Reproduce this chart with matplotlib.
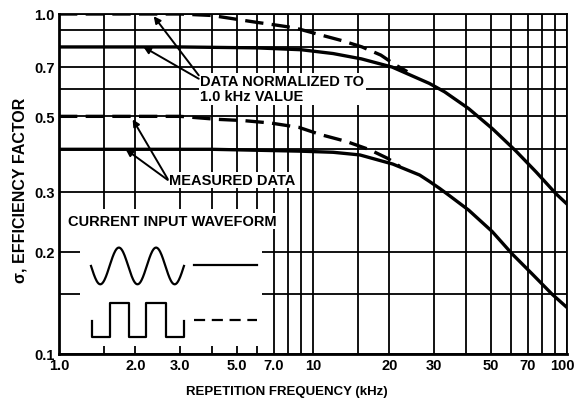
import numpy as np
import matplotlib
matplotlib.use("Agg")
import matplotlib.pyplot as plt
from matplotlib.ticker import FixedLocator, NullFormatter, FixedFormatter
from matplotlib.patches import Rectangle

plt.rcParams['font.family'] = ['Liberation Sans', 'DejaVu Sans']
plt.rcParams['font.weight'] = 'bold'
fs = 10.5

# measured data, sinusoidal input (solid)
meas_sine_f = [1.0, 4.0, 8.9, 12.0, 15.3, 20.6, 26.3, 28.7, 31.5, 34.5, 41.0, 50.8, 60.8, 72.9, 87.3, 100.0]
meas_sine = [0.40, 0.40, 0.395, 0.392, 0.385, 0.362, 0.336, 0.322, 0.307, 0.292, 0.265, 0.229, 0.197, 0.172, 0.150, 0.137]

# measured data, square input (dashed)
meas_sq_f = [1.0, 3.0, 4.2, 5.3, 6.8, 8.8, 10.7, 13.5, 16.7, 19.7, 22.0]
meas_sq = [0.50, 0.50, 0.49, 0.486, 0.478, 0.464, 0.442, 0.422, 0.399, 0.376, 0.356]

# normalized to 1.0 kHz value, sinusoidal (solid)
norm_sine_f = [1.0, 3.0, 6.0, 9.0, 12.0, 15.5, 20.5, 28.7, 33.0, 41.0, 51.0, 63.0, 75.6, 90.5, 100.0]
norm_sine = [0.80, 0.80, 0.795, 0.785, 0.765, 0.738, 0.698, 0.625, 0.590, 0.527, 0.459, 0.395, 0.343, 0.296, 0.276]

# normalized, square (dashed)
norm_sq_f = [1.0, 3.0, 4.0, 5.0, 6.0, 7.0, 8.5, 10.0, 13.0, 15.6, 18.5, 21.0, 23.5]
norm_sq = [1.0, 1.0, 0.99, 0.965, 0.945, 0.93, 0.91, 0.88, 0.835, 0.80, 0.757, 0.71, 0.677]

x_major = [1.0, 2.0, 3.0, 5.0, 7.0, 10, 20, 30, 50, 70, 100]
x_labels = ['1.0', '2.0', '3.0', '5.0', '7.0', '10', '20', '30', '50', '70', '100']
x_minor = [1.5, 4, 6, 8, 9, 15, 40, 60, 80, 90]
y_major = [0.1, 0.2, 0.3, 0.5, 0.7, 1.0]
y_labels = ['0.1', '0.2', '0.3', '0.5', '0.7', '1.0']
y_minor = [0.15, 0.4, 0.6, 0.8, 0.9]

fig = plt.figure(figsize=(5.78, 4.02), dpi=100)
ax = fig.add_axes([59/578, 1-355/402, 508/578, 340/402])
ax.set_xscale('log')
ax.set_yscale('log')
ax.set_xlim(1, 100)
ax.set_ylim(0.1, 1.0)

# last x label is drawn by hand so it stays inside the figure
ax.xaxis.set_major_locator(FixedLocator(x_major))
ax.xaxis.set_major_formatter(FixedFormatter(x_labels[:-1] + ['']))
ax.xaxis.set_minor_locator(FixedLocator(x_minor))
ax.xaxis.set_minor_formatter(NullFormatter())
ax.yaxis.set_major_locator(FixedLocator(y_major))
ax.yaxis.set_major_formatter(FixedFormatter(y_labels))
ax.yaxis.set_minor_locator(FixedLocator(y_minor))
ax.yaxis.set_minor_formatter(NullFormatter())
ax.tick_params(which='both', length=0, labelsize=fs, pad=3)
ax.annotate(x_labels[-1], xy=(x_major[-1], 0.1), xytext=(-3, -3), textcoords='offset points',
            ha='center', va='top', fontsize=fs, annotation_clip=False)
ax.set_axisbelow(True)
ax.grid(which='both', color='k', lw=1.3)
for s in ['left', 'bottom']:
    ax.spines[s].set_linewidth(2.0)
for s in ['top', 'right']:
    ax.spines[s].set_linewidth(1.3)

lw = 2.4
ax.plot(norm_sine_f, norm_sine, color='k', lw=lw, zorder=3)
ax.plot(norm_sq_f, norm_sq, color='k', lw=lw, dashes=(5.5, 2.5), zorder=3)
ax.plot(meas_sine_f, meas_sine, color='k', lw=lw, zorder=3)
ax.plot(meas_sq_f, meas_sq, color='k', lw=lw, dashes=(5.5, 2.5), zorder=3)

# white legend area
ax.add_patch(Rectangle((0.041, 0.024), 0.359, 0.402, transform=ax.transAxes,
                       facecolor='white', edgecolor='none', zorder=1))
ax.text(0.018, 0.391, 'CURRENT INPUT WAVEFORM', transform=ax.transAxes, fontsize=fs,
        va='center', ha='left', zorder=4,
        bbox=dict(facecolor='white', edgecolor='none', pad=0.5))

t = np.linspace(0, 2.5, 200)
ax.plot(0.063 + t / 2.5 * 0.183, 0.259 - 0.054 * np.sin(2 * np.pi * t),
        color='k', lw=1.6, transform=ax.transAxes, zorder=4)
sq_x = [0.065, 0.065, 0.100, 0.100, 0.138, 0.138, 0.171, 0.171, 0.211, 0.211, 0.246, 0.246]
sq_y = [0.097, 0.050, 0.050, 0.150, 0.150, 0.050, 0.050, 0.150, 0.150, 0.050, 0.050, 0.097]
ax.plot(sq_x, sq_y, color='k', lw=1.6, transform=ax.transAxes, zorder=4)
ax.plot([0.266, 0.390], [0.262, 0.262], color='k', lw=1.6, transform=ax.transAxes, zorder=4)
ax.plot([0.266, 0.390], [0.100, 0.100], color='k', lw=1.6, dashes=(5, 3),
        transform=ax.transAxes, zorder=4)

# annotations
arrow = dict(arrowstyle='-|>', color='k', lw=1.4, mutation_scale=10, shrinkA=0, shrinkB=0)
ax.text(3.6, 0.666, 'DATA NORMALIZED TO\n1.0 kHz VALUE', fontsize=fs, ha='left', va='top',
        linespacing=1.1, zorder=4,
        bbox=dict(facecolor='white', edgecolor='none', pad=1.0))
ax.annotate('', xy=(2.36, 0.985), xytext=(3.55, 0.66), arrowprops=arrow, zorder=4)
ax.annotate('', xy=(2.15, 0.80), xytext=(3.55, 0.645), arrowprops=arrow, zorder=4)

ax.text(2.72, 0.325, 'MEASURED DATA', fontsize=fs, ha='left', va='center', zorder=4,
        bbox=dict(facecolor='white', edgecolor='none', pad=0.5))
ax.annotate('', xy=(1.95, 0.49), xytext=(2.68, 0.327), arrowprops=arrow, zorder=4)
ax.annotate('', xy=(1.83, 0.40), xytext=(2.68, 0.325), arrowprops=arrow, zorder=4)

fig.text(20/578, 1-190/402, 'σ, EFFICIENCY FACTOR', rotation=90, fontsize=11.5,
         ha='center', va='center')
fig.text(287/578, 1-392/402, 'REPETITION FREQUENCY (kHz)', fontsize=9.5,
         ha='center', va='center')

fig.savefig('out.png', dpi=100)
